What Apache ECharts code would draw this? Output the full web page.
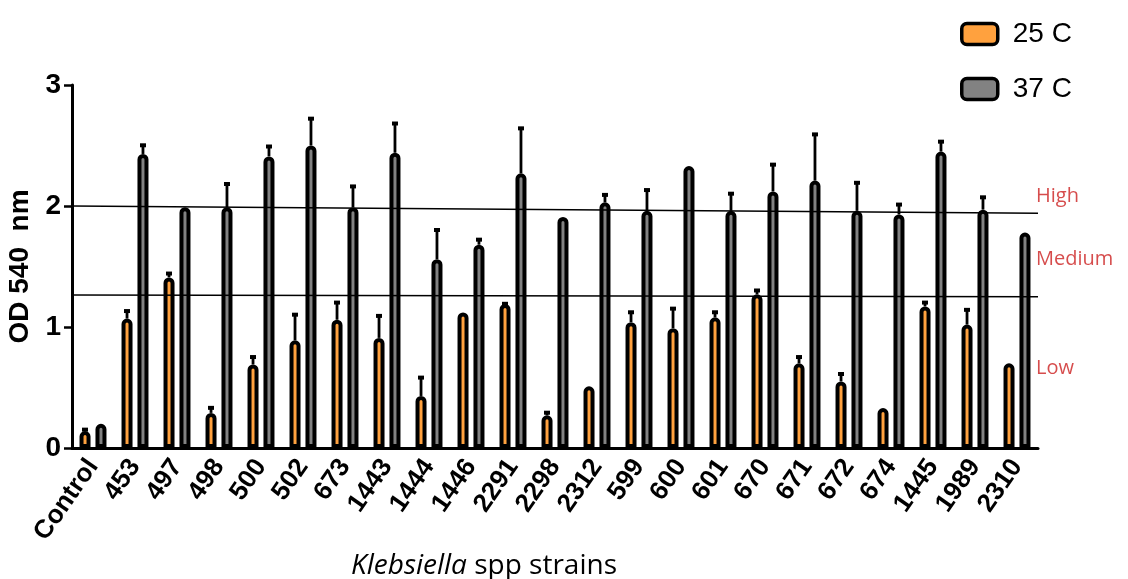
<!DOCTYPE html>
<html><head><meta charset="utf-8">
<script src="https://cdn.jsdelivr.net/npm/echarts@6/dist/echarts.min.js"></script>
<style>html,body{margin:0;padding:0;background:#fff}#c{width:1128px;height:579px}</style>
</head><body><div id="c"></div>
<script>
const categories = ['Control','453','497','498','500','502','673','1443','1444','1446','2291','2298','2312','599','600','601','670','671','672','674','1445','1989','2310'];
const od25 = [0.14,1.07,1.41,0.29,0.69,0.89,1.06,0.91,0.43,1.12,1.19,0.27,0.51,1.04,0.99,1.08,1.27,0.70,0.55,0.33,1.17,1.02,0.70];
const err25 = [0.02,0.07,0.04,0.05,0.07,0.22,0.15,0.19,0.16,0.0,0.01,0.03,0.0,0.09,0.17,0.05,0.04,0.06,0.07,0.0,0.04,0.13,0.0];
const od37 = [0.20,2.43,1.99,1.99,2.41,2.50,1.99,2.44,1.56,1.68,2.27,1.91,2.03,1.96,2.33,1.96,2.12,2.21,1.96,1.93,2.45,1.97,1.78];
const err37 = [0.0,0.08,0.0,0.20,0.09,0.23,0.18,0.25,0.25,0.05,0.38,0.0,0.07,0.18,0.0,0.15,0.23,0.39,0.24,0.09,0.09,0.11,0.0];
const yTicks = [0,1,2,3];
const highLine = [[0,2.0],[1,1.94]];
const mediumLine = [[0,1.265],[1,1.25]];
const levelLabels = [[1,2.08,'High'],[1,1.56,'Medium'],[1,0.66,'Low']];

const BAR_W = 11, BAR_GAP = 0.45;
const offset = BAR_W * (1 + BAR_GAP) / 2;

function errSeries(vals, errs, sign){
  return {
    type:'custom', xAxisIndex:0, yAxisIndex:0, z:1,
    data: vals.map((v,i)=>[i, v, v+errs[i]]),
    renderItem:function(params, api){
      const i = api.value(0);
      const p0 = api.coord([i, api.value(1)]);
      const p1 = api.coord([i, api.value(2)]);
      const x = p0[0] + sign*offset;
      if (api.value(2) - api.value(1) < 0.005) return null;
      return {type:'group', children:[
        {type:'line', shape:{x1:x,y1:p0[1],x2:x,y2:p1[1]}, style:{stroke:'#000',lineWidth:2.8}},
        {type:'rect', shape:{x:x-3,y:p1[1]-1,width:6,height:4}, style:{fill:'#000'}}
      ]};
    }
  };
}

const chart = echarts.init(document.getElementById('c'), null, {renderer:'canvas'});
chart.setOption({
  animation:false,
  grid:{left:72, right:90, top:85, bottom:131, containLabel:false, outerBoundsMode:'none'},
  legend:{
    orient:'vertical', left:955, top:15, itemWidth:36, itemHeight:21, itemGap:27,
    icon:'roundRect',
    textStyle:{fontSize:28, color:'#000', fontFamily:'Liberation Sans', padding:[0,0,0,10]},
    data:[{name:'25 C', itemStyle:{color:'#FFA13E', borderColor:'#000', borderWidth:3.5}},
          {name:'37 C', itemStyle:{color:'#828282', borderColor:'#000', borderWidth:3.5}}]
  },
  xAxis:[{
    type:'category', data:categories, boundaryGap:true,
    axisLine:{lineStyle:{color:'#000', width:3}},
    axisTick:{alignWithLabel:true, length:8, lineStyle:{color:'#000', width:2.5}},
    axisLabel:{rotate:55, fontSize:26, fontWeight:'bold', color:'#000', fontFamily:'Liberation Sans', margin:14, interval:0},
    name:'{i|Klebsiella} spp strains', nameLocation:'middle', nameGap:101,
    nameTextStyle:{fontSize:28, color:'#000', fontFamily:'Open Sans', padding:[0,142,0,0],
      rich:{i:{fontStyle:'italic', fontSize:28, fontFamily:'Open Sans', color:'#000'}}}
  },{
    type:'value', min:0, max:1, show:false
  }],
  yAxis:{
    type:'value', min:0, max:3, interval:1,
    axisLine:{show:true, lineStyle:{color:'#000', width:3}},
    axisTick:{show:true, length:8, lineStyle:{color:'#000', width:2.5}},
    splitLine:{show:false},
    axisLabel:{fontSize:28, fontWeight:'bold', color:'#000', fontFamily:'Liberation Sans', margin:11,
      formatter:v=>yTicks.includes(v)?String(v):''},
    name:'OD 540  nm', nameLocation:'middle', nameGap:31,
    nameTextStyle:{fontSize:28, fontWeight:'bold', color:'#000', fontFamily:'Liberation Sans'}
  },
  series:[
    {name:'25 C', type:'bar', data:od25, barWidth:BAR_W, barGap:(BAR_GAP*100)+'%', z:2,
     itemStyle:{color:'#FFA13E', borderColor:'#000', borderWidth:4, borderRadius:[5,5,0,0]}},
    {name:'37 C', type:'bar', data:od37, barWidth:BAR_W, z:2,
     itemStyle:{color:'#828282', borderColor:'#000', borderWidth:4, borderRadius:[5,5,0,0]}},
    errSeries(od25, err25, -1),
    errSeries(od37, err37, 1),
    {type:'line', xAxisIndex:1, data:highLine, symbol:'none', z:3, lineStyle:{color:'#000', width:1.5}},
    {type:'line', xAxisIndex:1, data:mediumLine, symbol:'none', z:3, lineStyle:{color:'#000', width:1.5}},
    {type:'scatter', xAxisIndex:1, symbolSize:0, clip:false, z:4,
     data:levelLabels.map(d=>({value:[d[0],d[1]], name:d[2]})),
     label:{show:true, position:'right', distance:-2, formatter:p=>p.name, color:'#CC1F1F', fontSize:20, fontFamily:'Open Sans'}}
  ]
});
</script></body></html>
